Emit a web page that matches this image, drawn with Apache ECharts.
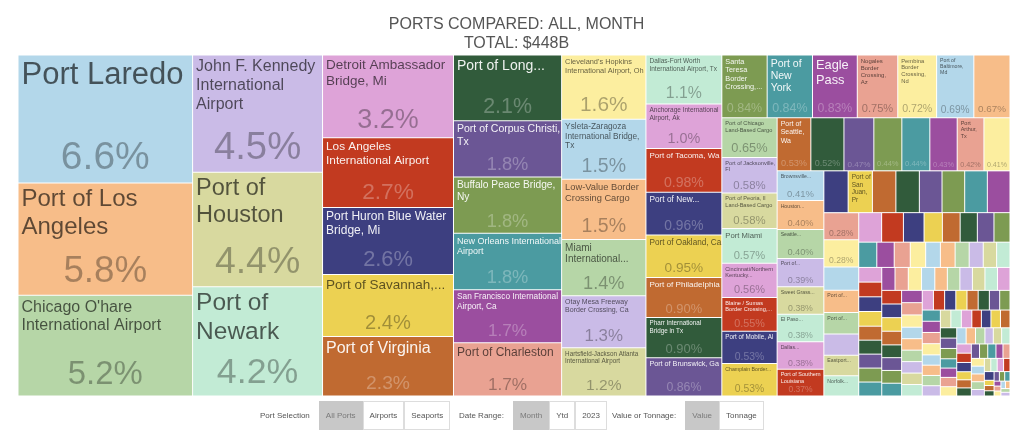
<!DOCTYPE html>
<html>
<head>
<meta charset="utf-8">
<title>Ports Compared</title>
<script src="https://cdn.jsdelivr.net/npm/echarts@6/dist/echarts.min.js"></script>
<style>
  html, body { margin: 0; padding: 0; background: #fff; }
  #chart { position: absolute; left: 0; top: 0; width: 1033px; height: 447px; }
  .grp {
    position: absolute; top: 401px; height: 29px;
    display: flex; align-items: center;
    font: 8px 'Liberation Sans', Arial, sans-serif; color: #555;
  }
  .grp .lbl { margin-right: 9px; }
  .grp .btn {
    box-sizing: border-box; height: 29px; line-height: 27px; padding: 0 6px;
    border: 1px solid #ddd; background: #fff;
  }
  .grp .btn.on { background: #c8c8c8; color: #7a7a7a; border-color: #c8c8c8; }
</style>
</head>
<body>
<div id="chart"></div>
<div class="grp" style="left:260px">
  <span class="lbl">Port Selection</span>
  <span class="btn on">All Ports</span><span class="btn">Airports</span><span class="btn">Seaports</span>
</div>
<div class="grp" style="left:459px">
  <span class="lbl">Date Range:</span>
  <span class="btn on">Month</span><span class="btn">Ytd</span><span class="btn">2023</span>
</div>
<div class="grp" style="left:612px">
  <span class="lbl">Value or Tonnage:</span>
  <span class="btn on">Value</span><span class="btn">Tonnage</span>
</div>
<script>
// port labels as printed in the cells, largest first ('' = cell shown without a name)
const portNames = [
  'Port Laredo', 'Port of Los\nAngeles', "Chicago O'hare\nInternational Airport",
  'John F. Kennedy\nInternational\nAirport', 'Port of\nHouston', 'Port of\nNewark',
  'Detroit Ambassador\nBridge, Mi', 'Los Angeles\nInternational Airport',
  'Port Huron Blue Water\nBridge, Mi', 'Port of Savannah,...', 'Port of Virginia',
  'Port of Long...', 'Port of Corpus Christi,\nTx', 'Buffalo Peace Bridge,\nNy',
  'New Orleans International\nAirport', 'San Francisco International\nAirport, Ca',
  'Port of Charleston', "Cleveland's Hopkins\nInternational Airport, Oh",
  'Ysleta-Zaragoza\nInternational Bridge,\nTx', 'Low-Value Border\nCrossing Cargo',
  'Miami\nInternational...', 'Otay Mesa Freeway\nBorder Crossing, Ca',
  'Hartsfield-Jackson Atlanta\nInternational Airport',
  'Dallas-Fort Worth\nInternational Airport, Tx', 'Anchorage International\nAirport, Ak',
  'Port of Tacoma, Wa', 'Port of New...', 'Port of Oakland, Ca', 'Port of Philadelphia',
  'Pharr International\nBridge in Tx', 'Port of Brunswick, Ga',
  'Santa\nTeresa\nBorder\nCrossing,...', 'Port of\nNew\nYork', 'Eagle\nPass',
  'Nogales\nBorder\nCrossing,\nAz', 'Pembina\nBorder\nCrossing,\nNd', 'Port of\nBaltimore,\nMd', '',
  'Port of Chicago\nLand-Based Cargo', 'Port of Jacksonville,\nFl',
  'Port of Peoria, Il\nLand-Based Cargo', 'Port Miami', 'Cincinnati/Northern\nKentucky...',
  'Blaine / Sumas\nBorder Crossing,...', 'Port of Mobile, Al', 'Champlain Border...',
  'Port of\nSeattle,\nWa', '', '', '', '', '', 'Port\nArthur,\nTx', '',
  'Brownsville...', 'Houston...', 'Seattle...', 'Port of...', 'Sweet Grass...',
  'El Paso...', 'Dallas...', 'Port of Southern\nLouisiana',
  '', 'Port of\nSan\nJuan,\nPr', '', '', '', '', '', '',
  '', '', '', 'Port of...', 'Port of...', '', 'Eastport...', 'Norfolk...'
];

// share of total value, percent
const shareValues = [
  6.6, 5.8, 5.2, 4.5, 4.4, 4.2, 3.2, 2.7, 2.6, 2.4, 2.3,
  2.1, 1.8, 1.8, 1.8, 1.7, 1.7, 1.6, 1.5, 1.5, 1.4, 1.3, 1.2,
  1.1, 1.0, 0.98, 0.96, 0.95, 0.90, 0.90, 0.86,
  0.84, 0.84, 0.83, 0.75, 0.72, 0.69, 0.67,
  0.65, 0.58, 0.58, 0.57, 0.56, 0.55, 0.53, 0.53,
  0.53, 0.52, 0.47, 0.44, 0.44, 0.43, 0.42, 0.41,
  0.41, 0.40, 0.40, 0.39, 0.38, 0.38, 0.38, 0.37,
  0.30, 0.30, 0.29, 0.29, 0.28, 0.28, 0.28, 0.28,
  0.28, 0.28, 0.24, 0.23, 0.22, 0.22, 0.21, 0.21,
  0.20, 0.19, 0.18, 0.16, 0.155, 0.15, 0.145, 0.14,
  0.135, 0.13, 0.12, 0.115, 0.11, 0.11, 0.105, 0.105, 0.10, 0.10,
  0.10, 0.10, 0.10, 0.10, 0.095, 0.095, 0.095, 0.095, 0.095,
  0.09, 0.09, 0.09, 0.09, 0.085, 0.085, 0.085, 0.085, 0.085, 0.085,
  0.08, 0.08, 0.08, 0.08, 0.075, 0.075, 0.075, 0.075, 0.075, 0.075, 0.075,
  0.07, 0.07, 0.07, 0.07, 0.07, 0.07, 0.065, 0.065, 0.065, 0.065, 0.065, 0.065,
  0.06, 0.06, 0.06, 0.06, 0.06, 0.06, 0.055, 0.055, 0.055, 0.055, 0.055, 0.055, 0.055,
  0.05, 0.05, 0.05, 0.05, 0.05, 0.05, 0.05, 0.045, 0.045, 0.045, 0.045, 0.045, 0.045, 0.045,
  0.04, 0.04, 0.04, 0.04, 0.04, 0.04, 0.035, 0.035, 0.035, 0.035, 0.035, 0.035,
  0.03, 0.03, 0.03, 0.03, 0.03, 0.03, 0.025, 0.025, 0.025, 0.025, 0.025, 0.025,
  0.015, 0.015, 0.015, 0.015, 0.015, 0.015, 0.01, 0.01, 0.01, 0.01, 0.01, 0.01, 0.01
];

// styling
const palette = [
  '#b3d7ea', '#f7bd89', '#b6d6a7', '#cabbe7', '#d8d99f', '#c2ebd5',
  '#dea3d8', '#c23a20', '#3d3f80', '#ecd152', '#c06a31', '#315b3b',
  '#6b5695', '#7d9b52', '#4b9ba1', '#9b4e9f', '#e9a292', '#fcee9f'
];
const darkIdx = [7, 8, 10, 11, 12, 13, 14, 15];
const nameSizes = [
  31, 24, 16, 16, 23.5, 24.5, 13.5, 11.8, 12, 13.5, 16,
  14, 10.5, 10.2, 9, 8.3, 12, 7.4, 8.3, 9.3, 10, 7, 6.3,
  6.5, 6.5, 8, 8.3, 8.2, 8.1, 6.3, 7.2,
  7.3, 10.5, 12.8, 6, 5.8, 5.2, 6,
  5.6, 5.6, 5.6, 7.7, 5.6, 5.6, 6.3, 5.2,
  7, 6, 6, 6, 6, 6, 5.5, 6,
  5.2, 5.2, 5.2, 5.2, 5.2, 5.2, 5.2, 5.5,
  6, 6.5, 6, 6, 6, 6, 6, 6,
  6, 6, 6, 5.2, 5.2, 6, 5.2, 5.2
];
const FONT = "'Liberation Sans', Arial, sans-serif";
const CLEAR = 'rgba(0,0,0,0)';

function pctText(v) {
  return (v >= 1 ? v.toFixed(1) : v.toFixed(2)) + '%';
}

const nameData = shareValues.map(function (v, i) {
  const c = i % palette.length;
  const dark = darkIdx.indexOf(c) >= 0;
  const fs = nameSizes[i] || 6;
  return {
    name: portNames[i] || '',
    value: v,
    itemStyle: { color: palette[c] },
    label: {
      fontSize: fs,
      lineHeight: Math.round(fs * 1.17 * 10) / 10,
      color: dark ? 'rgba(255,255,255,0.92)' : 'rgba(0,0,0,0.62)'
    }
  };
});

const pctData = shareValues.map(function (v, i) {
  const c = i % palette.length;
  const dark = darkIdx.indexOf(c) >= 0;
  return {
    name: portNames[i] || '',
    value: v,
    itemStyle: { color: CLEAR, borderColor: CLEAR },
    label: {
      fontSize: Math.min(38, 15 * Math.sqrt(v)),
      color: dark ? 'rgba(255,255,255,0.28)' : 'rgba(0,0,0,0.32)'
    }
  };
});

const box = { left: 18, top: 55, width: 992, height: 341 };

const chart = echarts.init(document.getElementById('chart'));
chart.setOption({
  animation: false,
  textStyle: { fontFamily: FONT },
  title: {
    text: 'PORTS COMPARED: ALL, MONTH\nTOTAL: $448B',
    left: 'center',
    top: 10,
    textStyle: { fontSize: 16, fontWeight: 'normal', color: '#555', lineHeight: 19, fontFamily: FONT }
  },
  series: [
    {
      type: 'treemap',
      left: box.left, top: box.top, width: box.width, height: box.height,
      sort: false,
      roam: false,
      nodeClick: false,
      silent: true,
      breadcrumb: { show: false },
      visibleMin: 1,
      itemStyle: { borderWidth: 0.5, borderColor: 'rgba(255,255,255,0.75)', gapWidth: 0 },
      levels: [{ itemStyle: { borderWidth: 0, gapWidth: 0 } }],
      label: {
        show: true,
        position: 'insideTopLeft',
        distance: 0,
        padding: [2, 1, 0, 3],
        overflow: 'none',
        fontFamily: FONT,
        formatter: '{b}'
      },
      data: nameData
    },
    {
      type: 'treemap',
      left: box.left, top: box.top, width: box.width, height: box.height,
      sort: false,
      roam: false,
      nodeClick: false,
      silent: true,
      color: [CLEAR],
      breadcrumb: { show: false },
      visibleMin: 1,
      itemStyle: { color: CLEAR, borderWidth: 0.5, borderColor: CLEAR, gapWidth: 0 },
      levels: [{ color: [CLEAR], itemStyle: { borderWidth: 0, gapWidth: 0 } }],
      label: {
        show: true,
        position: ['50%', '96%'],
        align: 'center',
        verticalAlign: 'bottom',
        padding: 0,
        distance: 0,
        fontFamily: FONT,
        formatter: function (p) {
          return p.value >= 0.26 ? pctText(p.value) : '';
        }
      },
      labelLayout: function (p) {
        if (!p.text) return {};
        const fs = Math.min(39, p.rect.height * 0.33, p.rect.width * 0.8 / (0.57 * p.text.length));
        return { fontSize: fs < 6.8 ? 0.01 : fs };
      },
      data: pctData
    }
  ]
});
</script>
</body>
</html>
